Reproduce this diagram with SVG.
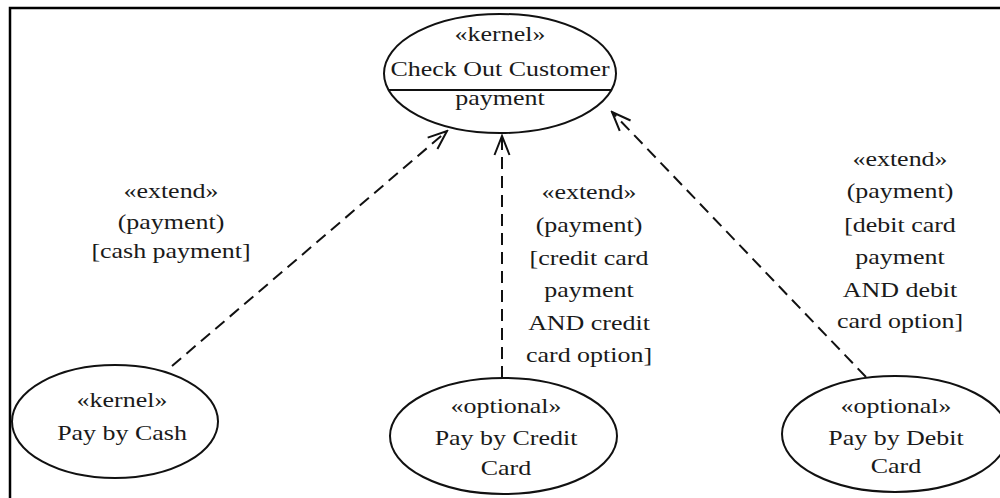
<svg xmlns="http://www.w3.org/2000/svg" width="1000" height="498" viewBox="0 0 1000 498">
  <defs>
    <style>
      .uc { fill: #ffffff; stroke: #111111; stroke-width: 2; }
      .sep { stroke: #111111; stroke-width: 2; }
      .frame { stroke: #000000; stroke-width: 2.5; fill: none; }
      .dep { fill: none; stroke: #111111; stroke-width: 2; stroke-dasharray: 12 7; }
      text { font-family: "Liberation Serif", "Times New Roman", serif; font-size: 22px; fill: #1a1a1a; text-anchor: middle; }
    </style>
    <marker id="open" viewBox="-22 -10 24 20" refX="0" refY="0" markerWidth="24" markerHeight="20" markerUnits="userSpaceOnUse" orient="auto">
      <path d="M-19,-7.5 L0,0 L-19,7.5" fill="none" stroke="#111111" stroke-width="2"/>
    </marker>
  </defs>

  <rect width="1000" height="498" fill="#ffffff"/>
  <!-- page frame: top and left edges only -->
  <path class="frame" d="M10,498 L10,8 L1000,8"/>

  <!-- extend relationships -->
  <g id="connectors">
    <line class="dep" x1="172" y1="366" x2="447" y2="131" marker-end="url(#open)"/>
    <line class="dep" x1="502" y1="378" x2="502" y2="136" marker-end="url(#open)"/>
    <line class="dep" x1="866" y1="377" x2="612" y2="112" marker-end="url(#open)"/>
    <g id="label-cash" transform="translate(171 0) scale(1.18 1)">
      <text x="0" y="198">«extend»</text>
      <text x="0" y="229">(payment)</text>
      <text x="0" y="258">[cash payment]</text>
    </g>
    <g id="label-credit" transform="translate(589 0) scale(1.18 1)">
      <text x="0" y="199">«extend»</text>
      <text x="0" y="232">(payment)</text>
      <text x="0" y="265">[credit card</text>
      <text x="0" y="297">payment</text>
      <text x="0" y="330">AND credit</text>
      <text x="0" y="362">card option]</text>
    </g>
    <g id="label-debit" transform="translate(900 0) scale(1.18 1)">
      <text x="0" y="166">«extend»</text>
      <text x="0" y="198">(payment)</text>
      <text x="0" y="232">[debit card</text>
      <text x="0" y="264">payment</text>
      <text x="0" y="297">AND debit</text>
      <text x="0" y="328">card option]</text>
    </g>
  </g>

  <!-- base use case with extension point -->
  <g id="check-out-customer">
    <ellipse class="uc" cx="500" cy="73.5" rx="116" ry="59.5"/>
    <line class="sep" x1="388" y1="90" x2="612" y2="90"/>
    <g transform="translate(500 0) scale(1.18 1)">
      <text x="0" y="41">«kernel»</text>
      <text x="0" y="76">Check Out Customer</text>
      <text x="0" y="105">payment</text>
    </g>
  </g>

  <g id="pay-by-cash">
    <ellipse class="uc" cx="115" cy="421.5" rx="103" ry="56.5"/>
    <g transform="translate(122 0) scale(1.18 1)">
      <text x="0" y="407">«kernel»</text>
      <text x="0" y="440">Pay by Cash</text>
    </g>
  </g>

  <g id="pay-by-credit-card">
    <ellipse class="uc" cx="503.5" cy="436" rx="113.5" ry="58"/>
    <g transform="translate(506 0) scale(1.18 1)">
      <text x="0" y="413">«optional»</text>
      <text x="0" y="445">Pay by Credit</text>
      <text x="0" y="475">Card</text>
    </g>
  </g>

  <g id="pay-by-debit-card">
    <ellipse class="uc" cx="895" cy="434" rx="113" ry="58"/>
    <g transform="translate(896 0) scale(1.18 1)">
      <text x="0" y="413">«optional»</text>
      <text x="0" y="445">Pay by Debit</text>
      <text x="0" y="473">Card</text>
    </g>
  </g>
</svg>
